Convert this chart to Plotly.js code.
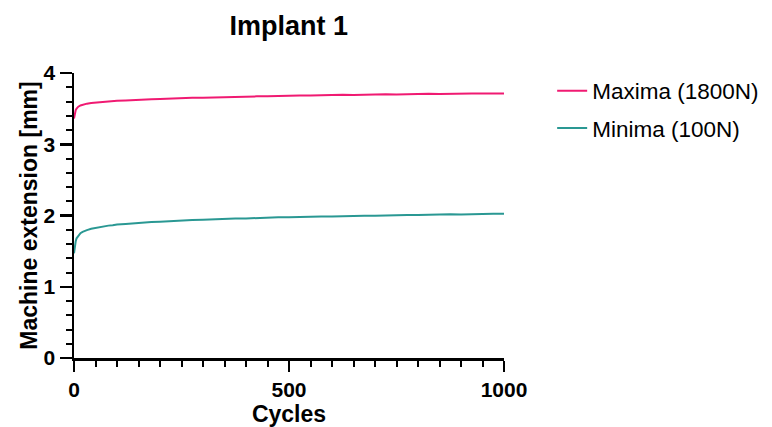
<!DOCTYPE html>
<html><head><meta charset="utf-8">
<script src="https://cdn.plot.ly/plotly-3.0.1.min.js"></script>
<style>body{margin:0;background:#fff}#chart{width:772px;height:427px}</style>
</head><body><div id="chart"></div>
<script>
var cycles = [0,2,4,6,8,10,15,20,25,30,40,50,60,70,80,90,100,120,140,160,180,200,225,250,275,300,325,350,375,400,425,450,475,500,525,550,575,600,625,650,675,700,725,750,775,800,825,850,875,900,925,950,975,1000];
var maxima = [3.36,3.44,3.48,3.50,3.515,3.527,3.545,3.556,3.566,3.57,3.58,3.587,3.594,3.597,3.603,3.606,3.611,3.615,3.623,3.626,3.633,3.636,3.643,3.643,3.651,3.652,3.658,3.659,3.665,3.667,3.672,3.672,3.678,3.68,3.685,3.684,3.689,3.689,3.693,3.692,3.697,3.697,3.701,3.70,3.705,3.703,3.708,3.707,3.711,3.71,3.713,3.712,3.716,3.714];
var minima = [1.47,1.58,1.64,1.68,1.70,1.72,1.752,1.77,1.787,1.795,1.815,1.826,1.84,1.847,1.858,1.862,1.872,1.879,1.892,1.897,1.908,1.912,1.922,1.927,1.936,1.939,1.947,1.949,1.957,1.959,1.966,1.966,1.974,1.975,1.981,1.98,1.987,1.987,1.993,1.992,1.998,1.997,2.003,2.002,2.008,2.006,2.012,2.01,2.016,2.014,2.02,2.018,2.024,2.023];
var seriesNames = ["Maxima (1800N)", "Minima (100N)"];
var xTicks = [0, 500, 1000];
var yTicks = [0, 1, 2, 3, 4];

var traces = [
  {x: cycles, y: maxima, name: seriesNames[0], legendgroup: 'a', mode: 'lines', line: {color: '#f01a72', width: 2}},
  {x: cycles, y: minima, name: seriesNames[1], legendgroup: 'b', mode: 'lines', line: {color: '#2a9893', width: 2}}
];
var FF = 'Liberation Sans, Arial, sans-serif';
var axisFont = {family: FF, size: 23, color: '#000'};
var layout = {
  width: 772, height: 427,
  margin: {l: 74, r: 268, t: 73, b: 69, autoexpand: false},
  paper_bgcolor: '#fff', plot_bgcolor: '#fff',
  font: {family: FF, color: '#000'},
  title: {text: '<b>Implant 1</b>', x: 0.374, xanchor: 'center', y: 0.94, yanchor: 'middle',
          font: {family: FF, size: 27, color: '#000'}},
  showlegend: true,
  legend: {x: 1.112, xanchor: 'left', y: 1.012, yanchor: 'top', font: {size: 22.5, color: '#000'},
           itemwidth: 30, traceorder: 'grouped', tracegroupgap: 5, bgcolor: 'rgba(0,0,0,0)'},
  xaxis: {range: [0, 1000], tickvals: xTicks, ticktext: xTicks.map(function(v){return '<b>'+v+'</b>';}),
          showgrid: false, zeroline: false, showline: true, linecolor: '#000', linewidth: 2.5,
          ticks: 'outside', ticklen: 11, tickwidth: 2.5, tickcolor: '#000',
          tickfont: {size: 21, color: '#000'},
          minor: {dtick: 50, tick0: 0, ticks: 'outside', ticklen: 6, tickwidth: 2, tickcolor: '#000', showgrid: false},
          title: {text: '<b>Cycles</b>', font: axisFont, standoff: 9}},
  yaxis: {range: [0, 4], tickvals: yTicks, ticktext: yTicks.map(function(v){return '<b>'+v+'</b>';}),
          showgrid: false, zeroline: false, showline: true, linecolor: '#000', linewidth: 2.5,
          ticks: 'outside', ticklen: 12, tickwidth: 2.5, tickcolor: '#000',
          tickfont: {size: 21, color: '#000'},
          minor: {dtick: 0.2, tick0: 0, ticks: 'outside', ticklen: 6, tickwidth: 2, tickcolor: '#000', showgrid: false},
          title: {text: '<b>Machine extension [mm]</b>', font: axisFont, standoff: 0}}
};
Plotly.newPlot('chart', traces, layout, {displayModeBar: false, staticPlot: true});
</script></body></html>
